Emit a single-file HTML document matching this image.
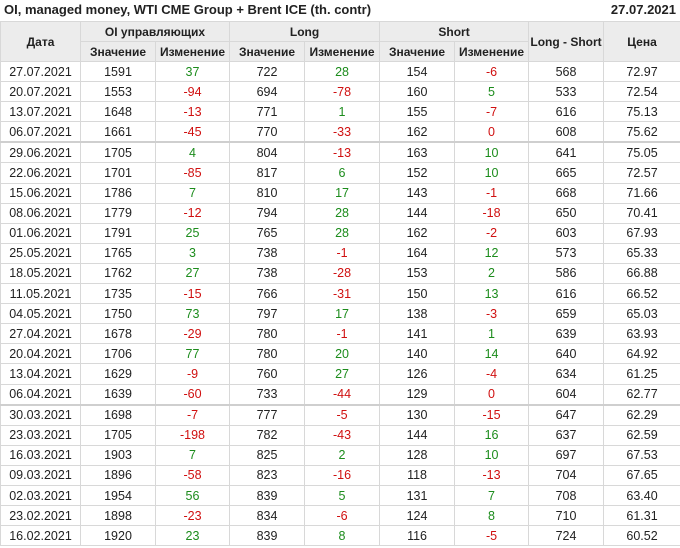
<!DOCTYPE html>
<html><head><meta charset="utf-8"><style>
body{margin:0;width:680px;height:548px;background:#fff;font-family:"Liberation Sans",Arial,sans-serif;color:#222;position:relative;overflow:hidden}
.t{position:absolute;top:2px;font-weight:bold;font-size:13px}
table{position:absolute;left:0;top:21px;border-collapse:collapse;table-layout:fixed;width:680px;font-size:12.5px}
td,th{border:1px solid #d8d8d8;height:19.1px;padding:0;text-align:center;white-space:nowrap}
th{background:#ececec;font-weight:bold;font-size:12px;height:19px}
.g{color:#1c8c1c}.r{color:#d01010}
tr.s td{border-top:2px solid #cfcfcf}
</style></head><body>
<div class="t" style="left:4px">OI, managed money, WTI CME Group + Brent ICE (th. contr)</div>
<div class="t" style="right:4px">27.07.2021</div>
<table>
<colgroup><col style="width:80px"><col style="width:75px"><col style="width:74px"><col style="width:75px"><col style="width:75px"><col style="width:75px"><col style="width:74px"><col style="width:75px"><col style="width:77px"></colgroup>
<tr><th rowspan="2">Дата</th><th colspan="2">OI управляющих</th><th colspan="2">Long</th><th colspan="2">Short</th><th rowspan="2">Long - Short</th><th rowspan="2">Цена</th></tr>
<tr><th>Значение</th><th>Изменение</th><th>Значение</th><th>Изменение</th><th>Значение</th><th>Изменение</th></tr>
<tr><td>27.07.2021</td><td>1591</td><td class="g">37</td><td>722</td><td class="g">28</td><td>154</td><td class="r">-6</td><td>568</td><td>72.97</td></tr>
<tr><td>20.07.2021</td><td>1553</td><td class="r">-94</td><td>694</td><td class="r">-78</td><td>160</td><td class="g">5</td><td>533</td><td>72.54</td></tr>
<tr><td>13.07.2021</td><td>1648</td><td class="r">-13</td><td>771</td><td class="g">1</td><td>155</td><td class="r">-7</td><td>616</td><td>75.13</td></tr>
<tr><td>06.07.2021</td><td>1661</td><td class="r">-45</td><td>770</td><td class="r">-33</td><td>162</td><td class="r">0</td><td>608</td><td>75.62</td></tr>
<tr class="s"><td>29.06.2021</td><td>1705</td><td class="g">4</td><td>804</td><td class="r">-13</td><td>163</td><td class="g">10</td><td>641</td><td>75.05</td></tr>
<tr><td>22.06.2021</td><td>1701</td><td class="r">-85</td><td>817</td><td class="g">6</td><td>152</td><td class="g">10</td><td>665</td><td>72.57</td></tr>
<tr><td>15.06.2021</td><td>1786</td><td class="g">7</td><td>810</td><td class="g">17</td><td>143</td><td class="r">-1</td><td>668</td><td>71.66</td></tr>
<tr><td>08.06.2021</td><td>1779</td><td class="r">-12</td><td>794</td><td class="g">28</td><td>144</td><td class="r">-18</td><td>650</td><td>70.41</td></tr>
<tr><td>01.06.2021</td><td>1791</td><td class="g">25</td><td>765</td><td class="g">28</td><td>162</td><td class="r">-2</td><td>603</td><td>67.93</td></tr>
<tr><td>25.05.2021</td><td>1765</td><td class="g">3</td><td>738</td><td class="r">-1</td><td>164</td><td class="g">12</td><td>573</td><td>65.33</td></tr>
<tr><td>18.05.2021</td><td>1762</td><td class="g">27</td><td>738</td><td class="r">-28</td><td>153</td><td class="g">2</td><td>586</td><td>66.88</td></tr>
<tr><td>11.05.2021</td><td>1735</td><td class="r">-15</td><td>766</td><td class="r">-31</td><td>150</td><td class="g">13</td><td>616</td><td>66.52</td></tr>
<tr><td>04.05.2021</td><td>1750</td><td class="g">73</td><td>797</td><td class="g">17</td><td>138</td><td class="r">-3</td><td>659</td><td>65.03</td></tr>
<tr><td>27.04.2021</td><td>1678</td><td class="r">-29</td><td>780</td><td class="r">-1</td><td>141</td><td class="g">1</td><td>639</td><td>63.93</td></tr>
<tr><td>20.04.2021</td><td>1706</td><td class="g">77</td><td>780</td><td class="g">20</td><td>140</td><td class="g">14</td><td>640</td><td>64.92</td></tr>
<tr><td>13.04.2021</td><td>1629</td><td class="r">-9</td><td>760</td><td class="g">27</td><td>126</td><td class="r">-4</td><td>634</td><td>61.25</td></tr>
<tr><td>06.04.2021</td><td>1639</td><td class="r">-60</td><td>733</td><td class="r">-44</td><td>129</td><td class="r">0</td><td>604</td><td>62.77</td></tr>
<tr class="s"><td>30.03.2021</td><td>1698</td><td class="r">-7</td><td>777</td><td class="r">-5</td><td>130</td><td class="r">-15</td><td>647</td><td>62.29</td></tr>
<tr><td>23.03.2021</td><td>1705</td><td class="r">-198</td><td>782</td><td class="r">-43</td><td>144</td><td class="g">16</td><td>637</td><td>62.59</td></tr>
<tr><td>16.03.2021</td><td>1903</td><td class="g">7</td><td>825</td><td class="g">2</td><td>128</td><td class="g">10</td><td>697</td><td>67.53</td></tr>
<tr><td>09.03.2021</td><td>1896</td><td class="r">-58</td><td>823</td><td class="r">-16</td><td>118</td><td class="r">-13</td><td>704</td><td>67.65</td></tr>
<tr><td>02.03.2021</td><td>1954</td><td class="g">56</td><td>839</td><td class="g">5</td><td>131</td><td class="g">7</td><td>708</td><td>63.40</td></tr>
<tr><td>23.02.2021</td><td>1898</td><td class="r">-23</td><td>834</td><td class="r">-6</td><td>124</td><td class="g">8</td><td>710</td><td>61.31</td></tr>
<tr><td>16.02.2021</td><td>1920</td><td class="g">23</td><td>839</td><td class="g">8</td><td>116</td><td class="r">-5</td><td>724</td><td>60.52</td></tr>
</table>
</body></html>
